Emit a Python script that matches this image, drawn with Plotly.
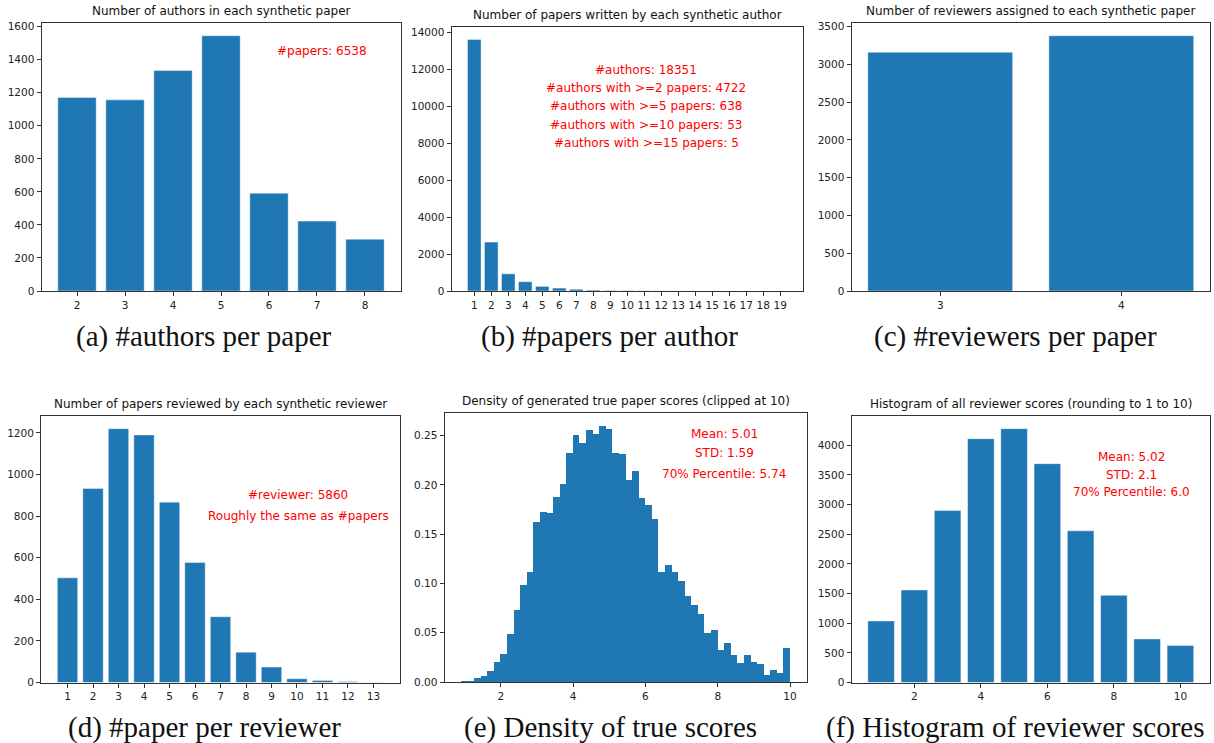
import numpy as np
import plotly.graph_objects as go

# ---------------- data ----------------
authors_per_paper_x = [2, 3, 4, 5, 6, 7, 8]
authors_per_paper_y = [1172, 1157, 1335, 1545, 592, 423, 314]

papers_per_author_x = list(range(1, 20))
papers_per_author_y = [13629, 2650, 930, 504, 250, 160, 95, 50, 30,
                       20, 12, 8, 5, 3, 2, 1, 1, 0, 1]

reviewers_per_paper_x = [3, 4]
reviewers_per_paper_y = [3160, 3378]

papers_per_reviewer_x = list(range(1, 14))
papers_per_reviewer_y = [503, 933, 1220, 1190, 867, 577, 316, 146, 74, 18, 10, 5, 1]

true_score_range = (0.9, 10.0)
true_score_density = [0.001, 0.001, 0.004, 0.006, 0.011, 0.020, 0.028, 0.049, 0.073, 0.098,
                      0.112, 0.162, 0.173, 0.172, 0.188, 0.201, 0.232, 0.251, 0.243, 0.256,
                      0.252, 0.260, 0.257, 0.232, 0.231, 0.205, 0.214, 0.187, 0.180, 0.165,
                      0.112, 0.119, 0.112, 0.103, 0.087, 0.078, 0.069, 0.050, 0.053, 0.032,
                      0.040, 0.027, 0.019, 0.027, 0.020, 0.018, 0.007, 0.012, 0.009, 0.035]

reviewer_score_x = [1, 2, 3, 4, 5, 6, 7, 8, 9, 10]
reviewer_score_y = [1038, 1560, 2900, 4112, 4281, 3691, 2558, 1470, 735, 623]

titles = [
    "Number of authors in each synthetic paper",
    "Number of papers written by each synthetic author",
    "Number of reviewers assigned to each synthetic paper",
    "Number of papers reviewed by each synthetic reviewer",
    "Density of generated true paper scores (clipped at 10)",
    "Histogram of all reviewer scores (rounding to 1 to 10)",
]
captions = [
    "(a) #authors per paper",
    "(b) #papers per author",
    "(c) #reviewers per paper",
    "(d) #paper per reviewer",
    "(e) Density of true scores",
    "(f) Histogram of reviewer scores",
]
notes_a = ["#papers: 6538"]
notes_b = ["#authors: 18351", "#authors with >=2 papers: 4722", "#authors with >=5 papers: 638",
           "#authors with >=10 papers: 53", "#authors with >=15 papers: 5"]
notes_d = ["#reviewer: 5860", "Roughly the same as #papers"]
notes_e = ["Mean: 5.01", "STD: 1.59", "70% Percentile: 5.74"]
notes_f = ["Mean: 5.02", "STD: 2.1", "70% Percentile: 6.0"]

# ---------------- layout helpers ----------------
W, H = 1214, 743
BLUE = "#1f77b4"
EDGE = "rgba(255,255,255,0.55)"
FONT = "DejaVu Sans"

def xd(a, b):
    return [a / W, b / W]

def yd(top, bottom):
    return [1 - bottom / H, 1 - top / H]

# panel boxes in pixels: (left, right, top, bottom)
boxes = [
    (41.5, 400.5, 23, 291),
    (451.5, 803, 27, 291),
    (851.5, 1210, 23, 291),
    (41, 400, 416, 682.5),
    (444.5, 806.5, 413, 682),
    (851.5, 1210, 416, 682.5),
]

fig = go.Figure()

def add_bar(i, x, y, width, lw=0.8):
    sfx = "" if i == 0 else str(i + 1)
    fig.add_trace(go.Bar(x=x, y=y, width=width, marker=dict(color=BLUE, line=dict(color=EDGE, width=lw)),
                         xaxis="x" + sfx, yaxis="y" + sfx, showlegend=False, hoverinfo="skip"))

add_bar(0, authors_per_paper_x, authors_per_paper_y, 0.8)
add_bar(1, papers_per_author_x, papers_per_author_y, 0.8)
add_bar(2, reviewers_per_paper_x, reviewers_per_paper_y, 0.8)
add_bar(3, papers_per_reviewer_x, papers_per_reviewer_y, 0.8)
edges = np.linspace(true_score_range[0], true_score_range[1], len(true_score_density) + 1)
centers = (edges[:-1] + edges[1:]) / 2
bw = edges[1] - edges[0]
add_bar(4, centers.tolist(), true_score_density, bw, lw=0)
add_bar(5, reviewer_score_x, reviewer_score_y, 0.8)

axis_common = dict(showline=True, linecolor="#333", linewidth=1, mirror=True, ticks="outside",
                   ticklen=4, tickcolor="#333", showgrid=False, zeroline=False, automargin=False,
                   tickfont=dict(family=FONT, size=10.5, color="#222"))

def pad(lo, hi):
    s = hi - lo
    return [lo - 0.05 * s, hi + 0.05 * s]

xranges = [pad(1.6, 8.4), pad(0.6, 19.4), pad(2.6, 4.4), pad(0.6, 13.4),
           pad(true_score_range[0], true_score_range[1]), pad(0.6, 10.4)]
ymax = [max(authors_per_paper_y), max(papers_per_author_y), max(reviewers_per_paper_y),
        max(papers_per_reviewer_y), max(true_score_density), max(reviewer_score_y)]
xticks = [authors_per_paper_x, papers_per_author_x, reviewers_per_paper_x, papers_per_reviewer_x,
          [2, 4, 6, 8, 10], [2, 4, 6, 8, 10]]
ydtick = [200, 2000, 500, 200, 0.05, 500]

lay = {}
for i, (l, r, t, b) in enumerate(boxes):
    sfx = "" if i == 0 else str(i + 1)
    xa = dict(axis_common, domain=xd(l, r), range=xranges[i], tickmode="array", tickvals=xticks[i],
              anchor="y" + sfx)
    ya = dict(axis_common, domain=yd(t, b), range=[0, ymax[i] * 1.05], tickmode="linear", tick0=0,
              dtick=ydtick[i], anchor="x" + sfx, tickformat=".2f" if i == 4 else "d")
    lay["xaxis" + sfx] = xa
    lay["yaxis" + sfx] = ya

annotations = []
for i, (l, r, t, b) in enumerate(boxes):
    annotations.append(dict(text=titles[i], x=(l + r) / 2 / W, y=1 - (t - 3) / H, xref="paper", yref="paper",
                            xanchor="center", yanchor="bottom", showarrow=False,
                            font=dict(family=FONT, size=12, color="#111")))

cap_pos = [(204, 336), (609, 336), (1015, 336), (204, 727), (610, 727), (1015, 727)]
for (cx, cy), c in zip(cap_pos, captions):
    annotations.append(dict(text=c, x=cx / W, y=1 - cy / H, xref="paper", yref="paper",
                            xanchor="center", yanchor="middle", showarrow=False,
                            font=dict(family="Liberation Serif", size=29, color="#111")))

def notes(lines, cx, ys):
    for s, yy in zip(lines, ys):
        annotations.append(dict(text=s, x=cx / W, y=1 - yy / H, xref="paper", yref="paper",
                                xanchor="center", yanchor="middle", showarrow=False,
                                font=dict(family=FONT, size=12, color="red")))

notes(notes_a, 322, [51])
notes(notes_b, 646, [70, 88, 106, 125, 143])
notes(notes_d, 298, [495, 516])
notes(notes_e, 724, [434, 453, 474])
notes(notes_f, 1131, [457, 475, 492])

fig.update_layout(width=W, height=H, margin=dict(l=0, r=0, t=0, b=0, autoexpand=False),
                  paper_bgcolor="white", plot_bgcolor="white", bargap=0,
                  annotations=annotations, **lay)

fig.write_html("out.html", config={"displayModeBar": False, "staticPlot": True},
               post_script="document.body.style.margin='0';document.body.style.overflow='hidden';")
